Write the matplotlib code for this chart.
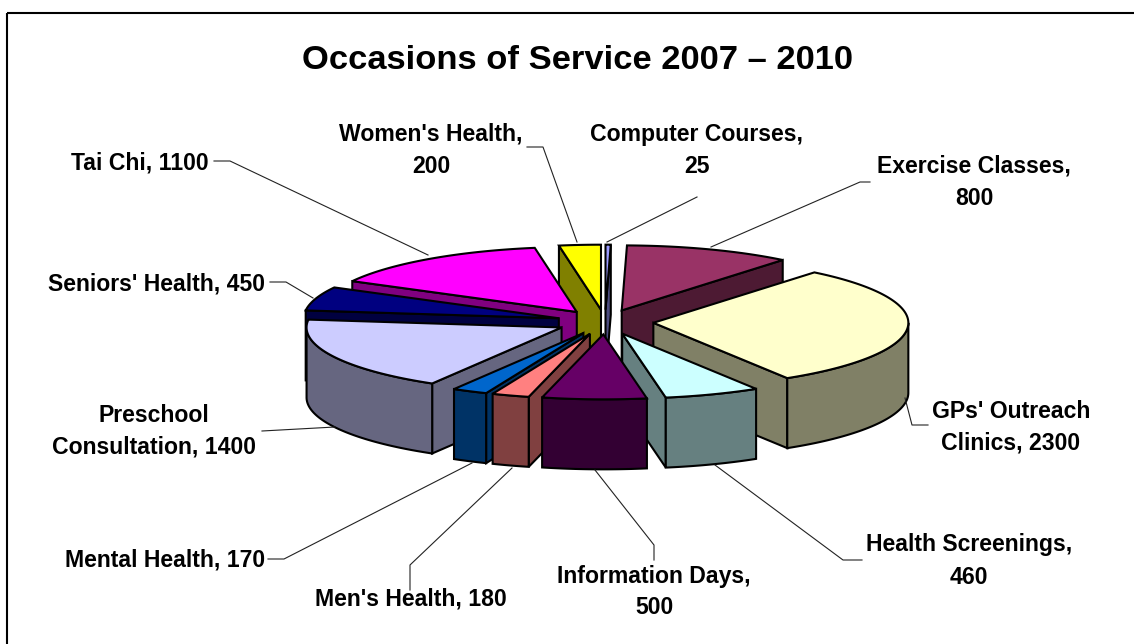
import numpy as np
import matplotlib
matplotlib.use("Agg")
import matplotlib.pyplot as plt
from matplotlib.colors import to_rgb

plt.rcParams['font.family'] = ['Liberation Sans', 'DejaVu Sans']

# occasions of service, clockwise from 12 o'clock
names = ["Computer Courses", "Exercise Classes", "GPs' Outreach Clinics", "Health Screenings",
         "Information Days", "Men's Health", "Mental Health", "Preschool Consultation",
         "Seniors' Health", "Tai Chi", "Women's Health"]
values = [25, 800, 2300, 460, 500, 180, 170, 1400, 450, 1100, 200]
colors = ["#9999ff", "#993366", "#ffffcc", "#ccffff", "#660066", "#ff8080",
          "#0066cc", "#ccccff", "#000080", "#ff00ff", "#ffff00"]

title = "Occasions of Service 2007 \u2013 2010"

# label text, position, leader line
labels = [
    ("Computer Courses,\n25", 697, 150, [(697, 197), (607, 242)]),
    ("Exercise Classes,\n800", 974, 182, [(870, 182), (860, 182), (711, 247)]),
    ("GPs' Outreach\nClinics, 2300", 1011, 427, [(905, 398), (912, 425), (928, 425)]),
    ("Health Screenings,\n460", 969, 561, [(862, 560), (843, 560), (715, 465)]),
    ("Information Days,\n500", 654, 592, [(654, 560), (654, 545), (595, 470)]),
    ("Men's Health, 180", 411, 599, [(410, 590), (410, 565), (512, 468)]),
    ("Mental Health, 170", 165, 560, [(268, 559), (284, 559), (472, 463)]),
    ("Preschool\nConsultation, 1400", 154, 431, [(262, 431), (335, 427)]),
    ("Seniors' Health, 450", 157, 284, [(270, 282), (286, 282), (313, 298)]),
    ("Tai Chi, 1100", 140, 163, [(214, 161), (230, 161), (428, 255)]),
    ("Women's Health,\n200", 431, 150, [(527, 147), (543, 147), (577, 242)]),
]

# pie geometry in pixels
cx, cy = 605, 322
rx, ry = 255, 65
depth = 70
explode = 0.19


def pt(theta, ox, oy, r=1.0):
    return ox + r * rx * np.sin(theta), oy - r * ry * np.cos(theta)


def wall(ax, xs, ys, color):
    px = list(xs) + list(xs)[::-1]
    py = list(ys) + [y + depth for y in list(ys)[::-1]]
    ax.fill(px, py, facecolor=color, edgecolor="black", lw=1.5, joinstyle="miter")


fig = plt.figure(figsize=(11.34, 6.44), dpi=100)
ax = fig.add_axes([0, 0, 1, 1])
ax.set_xlim(0, 1134)
ax.set_ylim(644, 0)
ax.axis("off")

# frame
ax.plot([7, 7], [644, 13], color="black", lw=1.5, solid_capstyle="butt")
ax.plot([7, 1134], [13, 13], color="black", lw=1.5, solid_capstyle="butt")

ends = 2 * np.pi * np.cumsum(values) / sum(values)
starts = np.r_[0, ends[:-1]]
mids = (starts + ends) / 2

# painter's order, back slices first
for i in np.argsort(-np.cos(mids)):
    s, e, m = starts[i], ends[i], mids[i]
    ox, oy = pt(m, cx, cy, explode)
    base = to_rgb(colors[i])
    dark = tuple(c * 0.5 for c in base)

    # cut faces only where they turn towards the viewer
    if np.sin(s) < 0:
        x1, y1 = pt(s, ox, oy)
        wall(ax, [ox, x1], [oy, y1], dark)
    if np.sin(e) > 0:
        x1, y1 = pt(e, ox, oy)
        wall(ax, [ox, x1], [oy, y1], dark)

    # rim, front half only
    a = max(s, np.pi / 2)
    b = min(e, 3 * np.pi / 2)
    if b > a:
        t = np.linspace(a, b, 80)
        wall(ax, *pt(t, ox, oy), dark)

    t = np.linspace(s, e, 120)
    xs, ys = pt(t, ox, oy)
    ax.fill(np.r_[ox, xs], np.r_[oy, ys], facecolor=base, edgecolor="black", lw=1.5, joinstyle="miter")

for txt, x, y, line in labels:
    ax.plot(*zip(*line), color="#222222", lw=0.8, zorder=1)
    ax.text(x, y, txt, ha="center", va="center", fontsize=16.6, fontweight="bold", linespacing=1.5)

ax.text(577, 60, title, ha="center", va="center", fontsize=24.8, fontweight="bold")

fig.savefig("out.png", dpi=100)
